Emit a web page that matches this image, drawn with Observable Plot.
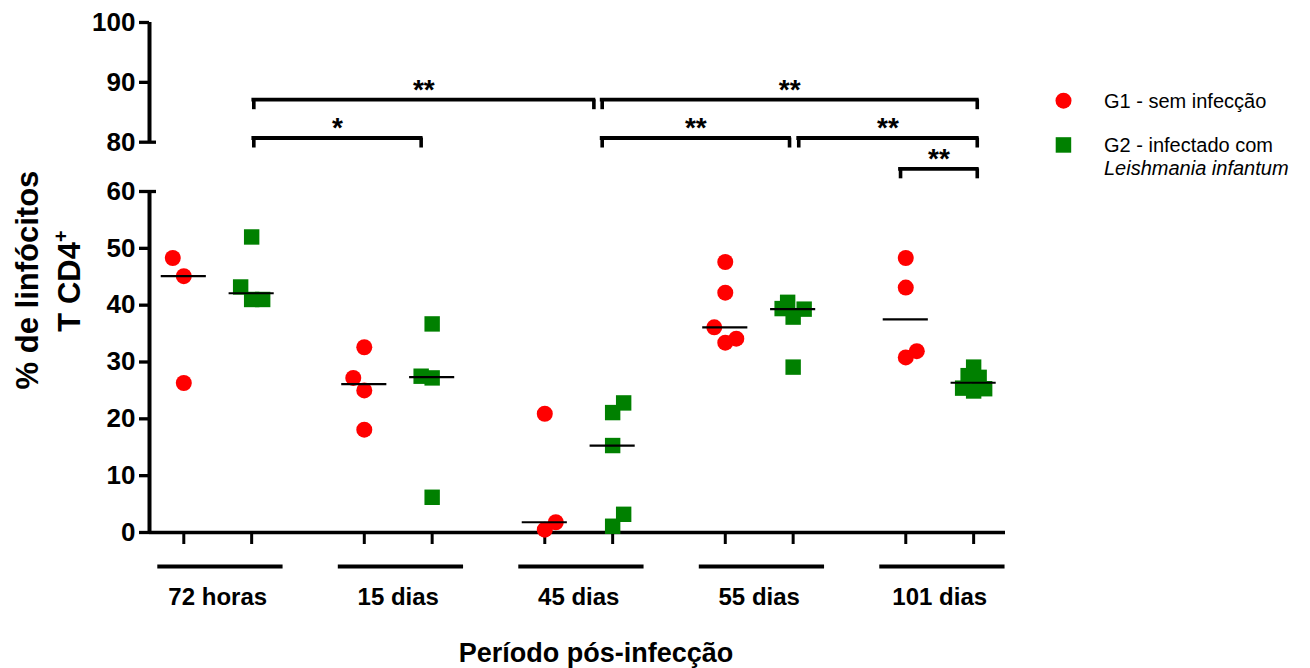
<!DOCTYPE html>
<html><head><meta charset="utf-8">
<script src="https://cdn.jsdelivr.net/npm/d3@7"></script>
<script src="https://cdn.jsdelivr.net/npm/@observablehq/plot@0.6"></script>
<style>
body{margin:0;background:#fff;}
#chart{position:relative;width:1310px;height:668px;}
</style>
</head><body><div id="chart"></div>
<script>
// ---- data ----
const periods = ["72 horas", "15 dias", "45 dias", "55 dias", "101 dias"];
const g1Values = [
  [48.3, 45.1, 26.3],
  [32.6, 27.2, 25.0, 18.1],
  [20.9, 1.8, 0.5],
  [47.6, 42.2, 36.1, 34.1, 33.4],
  [48.3, 43.1, 31.9, 30.8]
];
const g1Slots = [[-1,0,0],[0,-1,0,0],[0,1,0],[0,0,-1,1,0],[0,0,1,0]];
const g2Values = [
  [52.0, 43.2, 41.0, 41.0],
  [36.7, 27.5, 27.2, 6.2],
  [22.8, 21.1, 15.3, 3.2, 1.1],
  [40.5, 39.4, 39.3, 37.9, 29.1],
  [29.1, 27.6, 27.3, 25.4, 25.3, 24.9]
];
const g2Slots = [[0,-1,0,1],[0,-1,0,0],[1,0,0,1,0],[-0.5,-1,1,0,0],[0,-0.5,0.5,-1,1,0]];
const yTicks = [0, 10, 20, 30, 40, 50, 60, 80, 90, 100];
const yBreakEnds = [60, 80];
const ySegments = [[0, 60], [80, 100]];
const bracketStart = [0.200, 0.200, 2.130, 2.130, 3.219, 3.783];
const bracketEnd   = [2.084, 1.127, 4.208, 3.168, 4.208, 4.208];
const bracketLevel = [87.1, 80.7, 87.1, 80.7, 80.7, 69.2];
const bracketLabel = ["**", "*", "**", "**", "**", "**"];
const groupNames = ["G1 - sem infecção", "G2 - infectado com"];
const groupColors = ["#ff0000", "#008000"];

// ---- layout constants ----
const X0 = -0.378, X1 = 4.3645;
const side = 0.188, slotW = 0.061, halfMed = 0.125;

const points = [];
const medians = [];
periods.forEach((p, i) => {
  g1Values[i].forEach((v, j) => points.push({g: 0, x: i - side + g1Slots[i][j] * slotW, y: v}));
  g2Values[i].forEach((v, j) => points.push({g: 1, x: i + side + g2Slots[i][j] * slotW, y: v}));
  medians.push({x: i - side, y: d3.median(g1Values[i])});
  medians.push({x: i + side, y: d3.median(g2Values[i])});
});
const tickPos = periods.flatMap((p, i) => [i - side, i + side]);
const brackets = bracketStart.map((s, i) => ({x1: s, x2: bracketEnd[i], y: bracketLevel[i], label: bracketLabel[i]}));
const bracketLegs = brackets.flatMap(b => [{x: b.x1, y: b.y}, {x: b.x2, y: b.y}]);

const F = "'Liberation Sans', Arial, Helvetica, sans-serif";

const svg = Plot.plot({
  width: 1310, height: 668,
  marginLeft: 149, marginRight: 305, marginTop: 22, marginBottom: 136,
  style: {fontFamily: F, background: "white", overflow: "visible"},
  x: {type: "linear", domain: [X0, X1], axis: null},
  y: {type: "linear", domain: [0, 60, 80, 100], range: [532, 191, 141.7, 22], axis: null},
  marks: [
    // y axis segments (broken axis)
    Plot.ruleX(ySegments, {x: X0, y1: d => d[0], y2: d => d[1], stroke: "black", strokeWidth: 4}),
    Plot.ruleY(yTicks, {y: d => d, x1: X0, x2: X0, insetLeft: -10, stroke: "black", strokeWidth: 3.3}),
    Plot.ruleY(yBreakEnds, {y: d => d, x1: X0, x2: X0, insetRight: -7, stroke: "black", strokeWidth: 3.3}),
    Plot.text(yTicks, {x: X0, y: d => d, text: d => String(d), textAnchor: "end", dx: -14, fontSize: 26, fontWeight: "bold", fill: "black"}),
    // x axis line and ticks
    Plot.ruleY([0], {y: 0, x1: X0, x2: X1, stroke: "black", strokeWidth: 3.5}),
    Plot.ruleX(tickPos, {x: d => d, y1: 0, y2: 0, insetBottom: -12, stroke: "black", strokeWidth: 3}),
    // group underlines
    Plot.ruleY(periods, {y: 0, x1: (d, i) => i + 0.015 - 0.347, x2: (d, i) => i + 0.015 + 0.347, dy: 34, stroke: "black", strokeWidth: 4}),
    Plot.text(periods, {x: (d, i) => i, y: 0, text: d => d, dy: 65, fontSize: 24, fontWeight: "bold", fill: "black"}),
    // data points
    Plot.dot(points.filter(d => d.g === 0), {x: "x", y: "y", r: 8, fill: groupColors[0], symbol: "circle"}),
    Plot.dot(points.filter(d => d.g === 1), {x: "x", y: "y", r: 8.7, fill: groupColors[1], symbol: "square"}),
    // medians
    Plot.ruleY(medians, {y: "y", x1: d => d.x - halfMed, x2: d => d.x + halfMed, stroke: "black", strokeWidth: 2.2}),
    // significance brackets
    Plot.ruleY(brackets, {y: "y", x1: "x1", x2: "x2", stroke: "black", strokeWidth: 3.8, strokeLinecap: "square"}),
    Plot.ruleX(bracketLegs, {x: "x", y1: "y", y2: "y", insetBottom: -10, stroke: "black", strokeWidth: 3.6}),
    Plot.text(brackets, {x: d => (d.x1 + d.x2) / 2, y: "y", text: "label", dy: -10, fontSize: 28, fontWeight: "bold", fill: "black"})
  ]
});

const s = d3.select(svg);
// y-axis title
s.append("text").attr("transform", "translate(38,280) rotate(-90)")
  .attr("text-anchor", "middle").attr("font-family", F).attr("font-size", 31).attr("font-weight", "bold")
  .attr("fill", "black").text("% de linfócitos");
const t2 = s.append("text").attr("transform", "translate(80,281) rotate(-90)")
  .attr("text-anchor", "middle").attr("font-family", F).attr("font-size", 31).attr("font-weight", "bold")
  .attr("fill", "black");
t2.append("tspan").text("T CD4");
t2.append("tspan").attr("font-size", 20).attr("dy", -12).text("+");
// x-axis title
s.append("text").attr("x", 596).attr("y", 662).attr("text-anchor", "middle")
  .attr("font-family", F).attr("font-size", 27).attr("font-weight", "bold").attr("fill", "black")
  .text("Período pós-infecção");
// legend
const lg = s.append("g").attr("font-family", F).attr("font-size", 20).attr("fill", "black").attr("text-anchor", "start");
lg.append("circle").attr("cx", 1063.5).attr("cy", 100.7).attr("r", 8).attr("fill", groupColors[0]);
lg.append("rect").attr("x", 1055.7).attr("y", 137.2).attr("width", 15.5).attr("height", 15.5).attr("fill", groupColors[1]);
lg.append("text").attr("x", 1104).attr("y", 108.3).text(groupNames[0]);
lg.append("text").attr("x", 1104).attr("y", 151.7).text(groupNames[1]);
lg.append("text").attr("x", 1104).attr("y", 174.5).attr("font-style", "italic").text("Leishmania infantum");

document.getElementById("chart").appendChild(svg);
</script>
</body></html>
